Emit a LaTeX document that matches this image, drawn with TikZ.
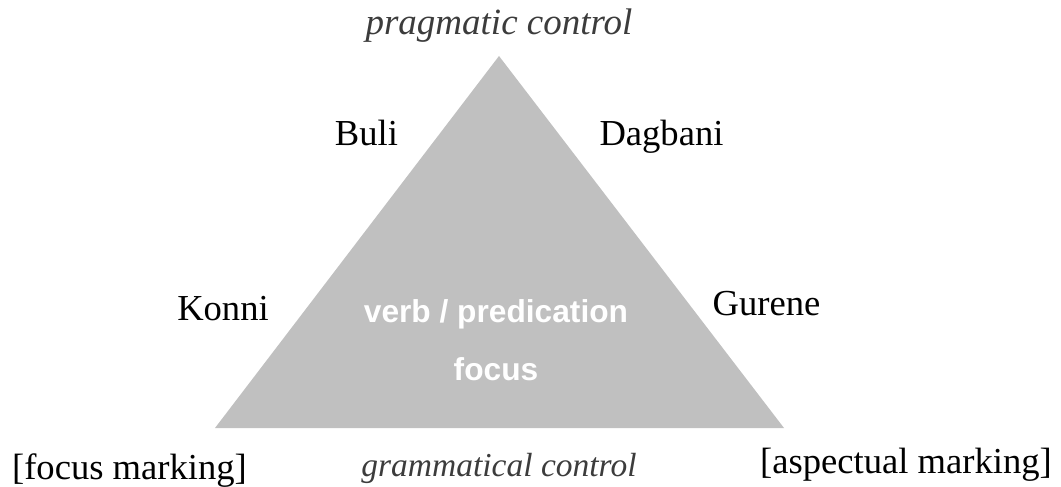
\documentclass[tikz,border=0pt]{standalone}
\usepackage{fontspec}
\setmainfont{Liberation Serif}
\newfontfamily\arialbf{Liberation Sans}[BoldFont={Liberation Sans Bold}]
\definecolor{trigray}{HTML}{C0C0C0}
\definecolor{italgray}{HTML}{3C3C3C}
\tikzset{
  lbl/.style={anchor=base, inner sep=0pt, font=\fontsize{36.6}{44}\selectfont},
  ital/.style={lbl, text=italgray, font=\fontsize{37}{44}\selectfont\itshape},
  inner/.style={anchor=base, inner sep=0pt, text=white, font=\arialbf\bfseries\fontsize{31.7}{38}\selectfont}
}
\begin{document}
\begin{tikzpicture}[x=1pt,y=-1pt]
\useasboundingbox (0,0) rectangle (1061,487);
\coordinate (apex) at (499,56);
\coordinate (bl) at (215,428);
\coordinate (br) at (784,428);
\fill[trigray] (apex) -- (bl) -- (br) -- cycle;
\node[ital] (prag) at (499,35) {pragmatic control};
\node[lbl] (buli) at (366.5,145) {Buli};
\node[lbl] (dagbani) at (661.5,145) {Dagbani};
\node[lbl] (konni) at (223,320) {Konni};
\node[lbl] (gurene) at (766.5,315) {Gurene};
\node[inner] (verb) at (496,322) {verb / predication};
\node[inner] (focus) at (496,380) {focus};
\node[lbl] (fm) at (129.5,479) {[focus marking]};
\node[ital, font=\fontsize{33.5}{40}\selectfont\itshape] (gram) at (499,476) {grammatical control};
\node[lbl] (am) at (906,473) {[aspectual marking]};
\end{tikzpicture}
\end{document}
